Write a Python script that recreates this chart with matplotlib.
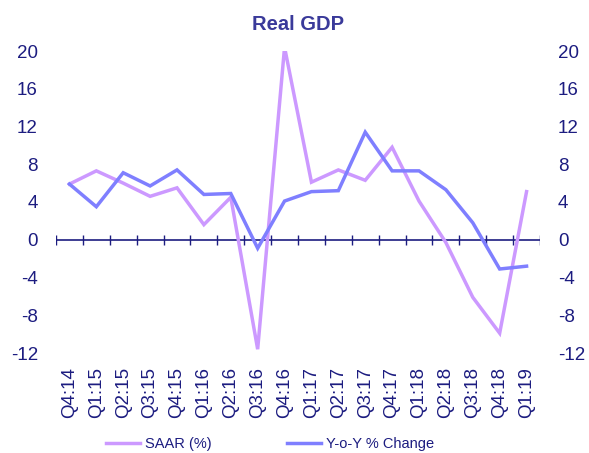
import matplotlib
matplotlib.use("Agg")
import matplotlib.pyplot as plt
import numpy as np

plt.rcParams['font.family'] = ['Liberation Sans', 'DejaVu Sans']

quarters = ["Q4:14", "Q1:15", "Q2:15", "Q3:15", "Q4:15", "Q1:16", "Q2:16", "Q3:16",
            "Q4:16", "Q1:17", "Q2:17", "Q3:17", "Q4:17", "Q1:18", "Q2:18", "Q3:18",
            "Q4:18", "Q1:19"]
saar = [5.9, 7.3, 6.0, 4.6, 5.5, 1.6, 4.5, -11.6, 20.4, 6.1, 7.4, 6.3, 9.8, 4.1,
        -0.3, -6.1, -9.9, 5.1]
yoy = [5.9, 3.5, 7.1, 5.7, 7.4, 4.8, 4.9, -0.9, 4.1, 5.1, 5.2, 11.4, 7.3, 7.3,
       5.3, 1.8, -3.1, -2.8]
yticks = [-12, -8, -4, 0, 4, 8, 12, 16, 20]

navy = '#1c1c80'
c_saar = '#cc99ff'
c_yoy = '#7f7fff'

W, H = 589, 453
fig = plt.figure(figsize=(W / 100, H / 100), dpi=100)
ax = fig.add_axes([56 / W, (H - 353) / H, (540 - 56) / W, (353 - 51) / H])

x = np.arange(len(quarters))
ax.plot(x, saar, color=c_saar, lw=2.5, label='SAAR (%)', solid_joinstyle='miter')
ax.plot(x, yoy, color=c_yoy, lw=2.5, label='Y-o-Y % Change', solid_joinstyle='miter')

ax.set_xlim(-0.5, len(quarters) - 0.5)
ax.set_ylim(-12, 20)
for s in ax.spines.values():
    s.set_visible(False)

# zero line with category-boundary ticks
ax.axhline(0, color=navy, lw=1.2, zorder=1)
ax.vlines(np.arange(len(quarters) + 1) - 0.5, -0.55, 0.55, color=navy, lw=1.0, zorder=1)

ax.set_yticks(yticks)
ax.set_yticklabels([str(v) for v in yticks])
ax.tick_params(axis='y', length=0, labelsize=13.5, labelcolor=navy, pad=13,
               labelleft=True, labelright=True)
ax.set_xticks(x)
ax.set_xticklabels(quarters, rotation=90)
ax.tick_params(axis='x', length=0, labelsize=13.5, labelcolor=navy, pad=10)

fig.text(298 / W, 1 - 24 / H, 'Real GDP', ha='center', va='center',
         fontsize=14.5, fontweight='bold', color='#3a3a9a')

leg = fig.legend(loc='center', bbox_to_anchor=(270 / W, 1 - 444 / H), ncol=2,
                 frameon=False, fontsize=10.5, handlelength=2.3, handletextpad=0.35,
                 columnspacing=5.2)
for t in leg.get_texts():
    t.set_color(navy)

fig.savefig('out.png', dpi=100)
